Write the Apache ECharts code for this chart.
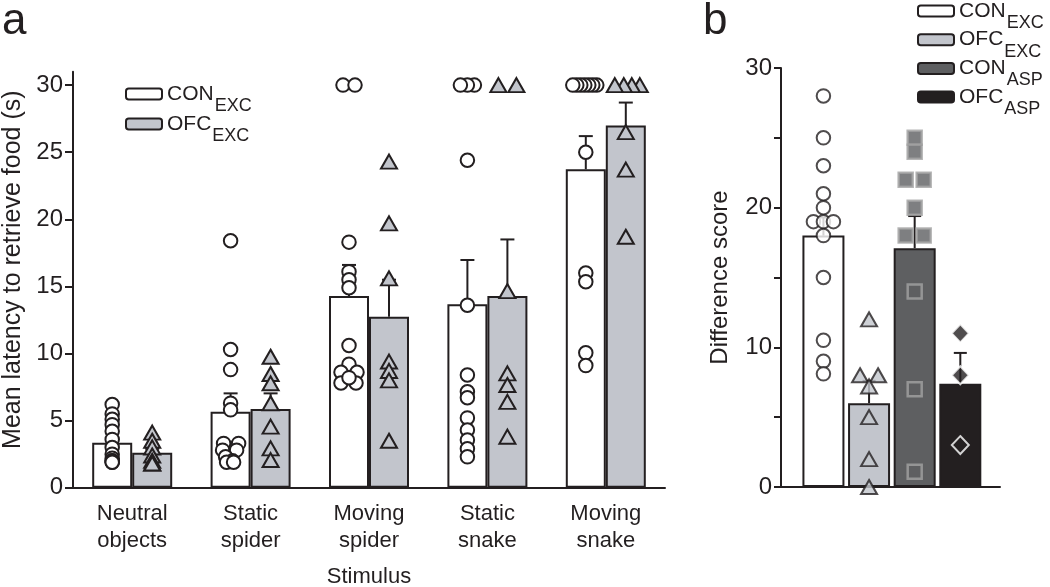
<!DOCTYPE html>
<html>
<head>
<meta charset="utf-8">
<script src="https://cdn.jsdelivr.net/npm/echarts@6/dist/echarts.min.js"></script>
<style>
html,body{margin:0;padding:0;background:#fff;}
#chart{width:1050px;height:587px;}
</style>
</head>
<body>
<div id="chart"></div>
<script>
// ---------- Panel a data ----------
const categories = ['Neutral\nobjects', 'Static\nspider', 'Moving\nspider', 'Static\nsnake', 'Moving\nsnake'];
const yTicksA = [0, 5, 10, 15, 20, 25, 30];
const conMean = [3.35, 5.66, 14.28, 13.67, 23.73];
const ofcMean = [2.6, 5.86, 12.74, 14.28, 27.0];
const conErrTop = [3.65, 7.03, 16.6, 16.97, 26.2];
const ofcErrTop = [2.9, 7.03, 15.5, 18.5, 28.7];
const conPts = [
  [6.2, 5.5, 5.1, 4.7, 4.2, 3.6, 3.0, 2.5, 2.2, 2.0, 2.0, 1.9, 1.9],
  [18.4, 10.3, 8.8, 6.3, 5.8, 3.3, 3.3, 2.8, 2.8, 2.3, 2.0, 1.9, 1.9],
  [30, 30, 18.3, 16.1, 15.5, 14.9, 10.6, 9.2, 8.6, 8.6, 7.8, 7.8, 8.2],
  [30, 30, 30, 24.4, 13.6, 8.4, 7.15, 6.7, 5.2, 4.3, 3.55, 2.9, 2.3],
  [30, 30, 30, 30, 30, 30, 30, 25.0, 16.0, 15.35, 10.05, 9.1]
];
const ofcPts = [
  [4.1, 3.5, 3.0, 2.4, 2.0, 1.8, 1.8],
  [9.76, 8.47, 7.78, 6.29, 4.55, 2.93, 2.06],
  [24.3, 19.7, 15.6, 9.4, 8.7, 8.0, 3.5],
  [30, 30, 14.65, 8.52, 7.65, 6.4, 3.8],
  [30, 30, 30, 30, 26.5, 23.7, 18.7]
];
// horizontal spread of overlapping points (pixels)
const conSpread = [
  [0,0,0,0,0,0,0,0,0,0,0,0,0],
  [0,0,0,0,0,-7,8,-8,6,-5,2,-4,3],
  [-6,6,0,0,0,0,0,0,-8,8,-8,7,0],
  [7,0,-7,0,0,0,0,0,0,0,0,0,0],
  [11,7,3,-1,-5,-9,-13,0,0,0,0,0]
];
const ofcSpread = [
  [0,0,0,0,0,0,0],
  [0,0,0,0,0,0,0],
  [0,0,0,0,0,0,0],
  [9,-9,0,0,0,0,0],
  [14,6,-2,-11,0,0,0]
];

// ---------- Panel b data ----------
const groupsB = ['CON_EXC', 'OFC_EXC', 'CON_ASP', 'OFC_ASP'];
const yTicksB = [0, 5, 10, 15, 20, 25, 30];
const meanB = [18.0, 6.0, 17.1, 7.4];
const errTopB = [19.3, 7.6, 19.4, 9.6];
const ptsB = [
  [28, 25, 23, 21, 20, 19, 19, 19, 18, 15, 10.5, 9, 8.1],
  [12, 8, 8, 7.2, 5, 2, 0],
  [25, 24, 22, 22, 20, 18, 18, 14, 7, 1.1],
  [11, 8, 3]
];
const spreadB = [
  [0,0,0,0,0,-10,0,10,0,0,0,0,0],
  [0,-9,9,0,0,0,0],
  [0,0,-9,9,0,-9,9,0,0,0],
  [0,0,0]
];

// ---------- styling / layout ----------
const INK = '#231f20';
const FONT = 'Liberation Sans, Arial, Helvetica, sans-serif';
const GRID_A = {left: 73, top: 71.7, width: 592, height: 416};
const GRID_B = {left: 781, top: 68, width: 219, height: 419};
const BAR_A = 40, BAR_B = 42;
const BAND_A = GRID_A.width / categories.length;
const X_B_MIN = 0.07, X_B_MAX = 4.87;
const UNIT_B = GRID_B.width / (X_B_MAX - X_B_MIN);
const colorsB = ['#ffffff', '#c2c5cc', '#5e5f61', INK];

const chart = echarts.init(document.getElementById('chart'), null, {renderer: 'canvas'});

function errRender(capHalf) {
  return function (params, api) {
    const x = api.value(0), lo = api.value(1), hi = api.value(2);
    const p0 = api.coord([x, lo]), p1 = api.coord([x, hi]);
    return {type: 'group', children: [
      {type: 'line', shape: {x1: p0[0], y1: p0[1], x2: p1[0], y2: p1[1]}, style: {stroke: INK, lineWidth: 2}},
      {type: 'line', shape: {x1: p1[0] - capHalf, y1: p1[1], x2: p1[0] + capHalf, y2: p1[1]}, style: {stroke: INK, lineWidth: 2}}
    ]};
  };
}

const offA = (BAR_A / 2) / BAND_A;
function ptsA(pts, spread, side) {
  const out = [];
  pts.forEach((arr, i) => arr.forEach((v, k) => {
    out.push([i + 0.5 + side * offA + spread[i][k] / BAND_A, v]);
  }));
  return out;
}
const errA = [];
conMean.forEach((m, i) => errA.push([i + 0.5 - offA, m, conErrTop[i]]));
ofcMean.forEach((m, i) => errA.push([i + 0.5 + offA, m, ofcErrTop[i]]));

const series = [
  {name: 'CON_EXC', type: 'bar', xAxisIndex: 0, yAxisIndex: 0, data: conMean, barWidth: BAR_A, barGap: '0%',
   itemStyle: {color: '#ffffff', borderColor: INK, borderWidth: 2}, z: 2},
  {name: 'OFC_EXC', type: 'bar', xAxisIndex: 0, yAxisIndex: 0, data: ofcMean, barWidth: BAR_A, barGap: '0%',
   itemStyle: {color: '#c2c5cc', borderColor: INK, borderWidth: 2}, z: 2},
  {name: 'errA', type: 'custom', xAxisIndex: 1, yAxisIndex: 0, data: errA, encode: {x: 0, y: [1, 2]},
   renderItem: errRender(7), z: 3, silent: true},
  {name: 'CON_EXC pts', type: 'scatter', xAxisIndex: 1, yAxisIndex: 0, data: ptsA(conPts, conSpread, -1),
   symbol: 'circle', symbolSize: 13.5, itemStyle: {color: '#ffffff', borderColor: INK, borderWidth: 2, opacity: 1}, z: 4, silent: true},
  {name: 'OFC_EXC pts', type: 'scatter', xAxisIndex: 1, yAxisIndex: 0, data: ptsA(ofcPts, ofcSpread, 1),
   symbol: 'triangle', symbolSize: [16, 14], itemStyle: {color: '#c2c5cc', borderColor: INK, borderWidth: 2, opacity: 1}, z: 4, silent: true}
];

// panel b bars
groupsB.forEach((g, i) => {
  series.push({name: g, type: 'bar', xAxisIndex: 2, yAxisIndex: 1, data: [[i + 1, meanB[i]]], barWidth: BAR_B, barGap: '-100%',
    itemStyle: {color: colorsB[i], borderColor: INK, borderWidth: 2}, z: 2});
});
series.push({name: 'errB', type: 'custom', xAxisIndex: 2, yAxisIndex: 1,
  data: meanB.map((m, i) => [i + 1, m, errTopB[i]]), encode: {x: 0, y: [1, 2]}, renderItem: errRender(6.5), z: 3, silent: true});
const symB = [
  {symbol: 'circle', symbolSize: 13.5, itemStyle: {color: '#ffffff', borderColor: INK, borderWidth: 2}},
  {symbol: 'triangle', symbolSize: [16, 14], itemStyle: {color: '#c2c5cc', borderColor: INK, borderWidth: 2}},
  {symbol: 'rect', symbolSize: 14, itemStyle: {color: '#5e5f61', borderColor: '#a2a2a2', borderWidth: 2.5}},
  {symbol: 'diamond', symbolSize: [17, 18], itemStyle: {color: INK, borderColor: '#ffffff', borderWidth: 2}}
];
groupsB.forEach((g, i) => {
  series.push(Object.assign({name: g + ' pts', type: 'scatter', xAxisIndex: 2, yAxisIndex: 1, z: 4, silent: true,
    data: ptsB[i].map((v, k) => [i + 1 + spreadB[i][k] / UNIT_B, v])}, symB[i]));
});

function legendFmt(name) {
  const p = name.split('_');
  return '{m|' + p[0] + '}{s|' + p[1] + '}';
}
const legendText = {
  fontFamily: FONT, color: INK,
  rich: {
    m: {fontSize: 21, lineHeight: 22, fontFamily: FONT, color: INK},
    s: {fontSize: 18, lineHeight: 18, padding: [24, 0, 0, 1], fontFamily: FONT, color: INK}
  }
};

const option = {
  animation: false,
  backgroundColor: '#ffffff',
  textStyle: {fontFamily: FONT},
  graphic: [
    {type: 'text', left: 2, top: 0, style: {text: 'a', font: '44px ' + FONT, fill: INK}},
    {type: 'text', left: 703, top: 0, style: {text: 'b', font: '44px ' + FONT, fill: INK}}
  ],
  legend: [
    {data: ['CON_EXC', 'OFC_EXC'], orient: 'vertical', left: 125, top: 73, padding: 0, itemGap: -12,
     itemWidth: 36, itemHeight: 11, selectedMode: false, formatter: legendFmt, textStyle: legendText,
     itemStyle: {borderColor: INK, borderWidth: 2}},
    {data: groupsB, orient: 'vertical', left: 917, top: -10, padding: 0, itemGap: -13.3,
     itemWidth: 36, itemHeight: 11, selectedMode: false, formatter: legendFmt, textStyle: legendText,
     itemStyle: {borderColor: INK, borderWidth: 2}}
  ],
  grid: [
    Object.assign({containLabel: false, outerBoundsMode: 'none'}, GRID_A),
    Object.assign({containLabel: false, outerBoundsMode: 'none'}, GRID_B)
  ],
  xAxis: [
    {type: 'category', gridIndex: 0, data: categories,
     axisLine: {lineStyle: {color: INK, width: 2}},
     axisTick: {alignWithLabel: true, length: 8, lineStyle: {color: INK, width: 2}},
     axisLabel: {color: INK, fontSize: 22, lineHeight: 27, margin: 13, fontFamily: FONT},
     name: 'Stimulus', nameLocation: 'middle', nameGap: 78,
     nameTextStyle: {color: INK, fontSize: 22, fontFamily: FONT}},
    {type: 'value', gridIndex: 0, min: 0, max: categories.length, show: false},
    {type: 'value', gridIndex: 1, min: X_B_MIN, max: X_B_MAX,
     axisLine: {show: true, lineStyle: {color: INK, width: 2}},
     axisTick: {show: false}, axisLabel: {show: false}, splitLine: {show: false}}
  ],
  yAxis: [
    {type: 'value', gridIndex: 0, min: 0, max: 31, interval: 5,
     axisLine: {show: true, lineStyle: {color: INK, width: 2}},
     axisTick: {show: true, length: 8, lineStyle: {color: INK, width: 2}, customValues: yTicksA},
     axisLabel: {color: INK, fontSize: 24, margin: 10, fontFamily: FONT, customValues: yTicksA},
     splitLine: {show: false},
     name: 'Mean latency to retrieve food (s)', nameLocation: 'middle', nameGap: 46,
     nameTextStyle: {color: INK, fontSize: 25, fontFamily: FONT, padding: [0, 0, 0, 20]}},
    {type: 'value', gridIndex: 1, min: 0, max: 30, interval: 5,
     axisLine: {show: true, lineStyle: {color: INK, width: 2}},
     axisTick: {show: true, length: 7, lineStyle: {color: INK, width: 2}, customValues: yTicksB},
     axisLabel: {color: INK, fontSize: 24, margin: 9, fontFamily: FONT,
       formatter: v => (v % 10 === 0 ? String(v) : '')},
     splitLine: {show: false},
     name: 'Difference score', nameLocation: 'middle', nameGap: 49,
     nameTextStyle: {color: INK, fontSize: 24, fontFamily: FONT}}
  ],
  series: series
};
chart.setOption(option);
</script>
</body>
</html>
